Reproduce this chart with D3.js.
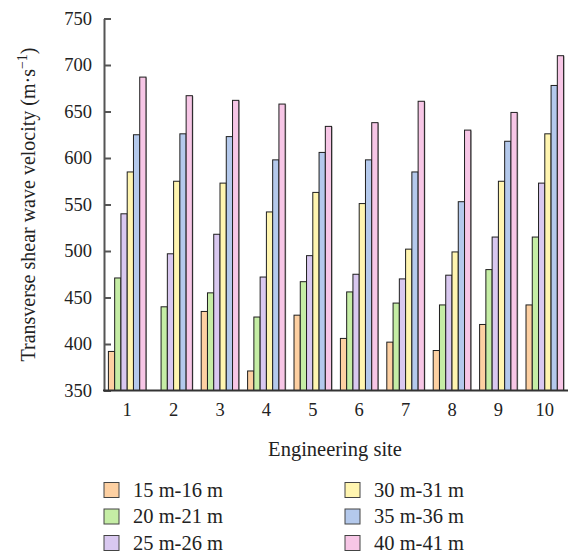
<!DOCTYPE html>
<html>
<head>
<meta charset="utf-8">
<script src="https://cdn.jsdelivr.net/npm/d3@7"></script>
<style>
  html, body { margin: 0; padding: 0; background: #fff; }
  svg { display: block; }
  text { font-family: "Liberation Serif", "Times New Roman", serif; fill: #222; }
</style>
</head>
<body>
<svg id="chart" width="569" height="557"></svg>
<script>
// Engineering sites along the x axis
const sites = ["1", "2", "3", "4", "5", "6", "7", "8", "9", "10"];

// Depth intervals (one bar per interval at every site)
const depths = ["15 m-16 m", "20 m-21 m", "25 m-26 m", "30 m-31 m", "35 m-36 m", "40 m-41 m"];
const depthColors = ["#fdd0a2", "#c5eda5", "#d9c8f0", "#fff5b0", "#b4c9ec", "#f7c6e6"];

// Shear wave velocity (m/s) per depth interval, listed by site 1..10
const v15 = [392, null, 435, 371, 431, 406, 402, 393, 421, 442];
const v20 = [471, 440, 455, 429, 467, 456, 444, 442, 480, 515];
const v25 = [540, 497, 518, 472, 495, 475, 470, 474, 515, 573];
const v30 = [585, 575, 573, 542, 563, 551, 502, 499, 575, 626];
const v35 = [625, 626, 623, 598, 606, 598, 585, 553, 618, 678];
const v40 = [687, 667, 662, 658, 634, 638, 661, 630, 649, 710];
const series = [v15, v20, v25, v30, v35, v40];

const yTicks = [350, 400, 450, 500, 550, 600, 650, 700, 750];

const svg = d3.select("#chart");
const plotLeft = 104, plotRight = 568, plotTop = 18.5, plotBottom = 390.5;

const x = d3.scaleBand().domain(sites).range([plotLeft, plotRight]).paddingInner(0.19).paddingOuter(0.095);
const xSub = d3.scaleBand().domain(depths).range([0, x.bandwidth()]);
const y = d3.scaleLinear().domain([350, 750]).range([plotBottom, plotTop]);

// Bars
const rows = [];
sites.forEach((s, i) => {
  depths.forEach((d, j) => {
    const v = series[j][i];
    if (v != null) rows.push({ site: s, depth: d, value: v, color: depthColors[j] });
  });
});

const bars = svg.append("g");
// soft grey edge on the right of each bar
bars.selectAll("rect.shade").data(rows).join("rect")
  .attr("class", "shade")
  .attr("x", d => x(d.site) + xSub(d.depth) + 1)
  .attr("y", d => y(d.value) + 0.5)
  .attr("width", xSub.bandwidth())
  .attr("height", d => plotBottom - y(d.value) - 0.5)
  .attr("fill", "#aaa");
bars.selectAll("rect.bar").data(rows).join("rect")
  .attr("class", "bar")
  .attr("x", d => x(d.site) + xSub(d.depth))
  .attr("y", d => y(d.value))
  .attr("width", xSub.bandwidth())
  .attr("height", d => plotBottom - y(d.value))
  .attr("fill", d => d.color)
  .attr("stroke", "#1e1e1e")
  .attr("stroke-width", 1);

// Y axis with inward ticks
const yAxis = svg.append("g")
  .attr("transform", `translate(${plotLeft},0)`)
  .call(d3.axisLeft(y).tickValues(yTicks).tickSize(-7).tickSizeOuter(0).tickPadding(12));
yAxis.select(".domain").attr("stroke", "#555").attr("stroke-width", 2);
yAxis.selectAll(".tick line").attr("stroke", "#555").attr("stroke-width", 2);
yAxis.selectAll(".tick text")
  .style("font-family", "'Liberation Serif', serif")
  .style("font-size", "18.5px")
  .attr("fill", "#222");

// X axis
const xAxis = svg.append("g")
  .attr("transform", `translate(0,${plotBottom})`)
  .call(d3.axisBottom(x).tickSize(0).tickSizeOuter(0).tickPadding(12));
xAxis.select(".domain").attr("stroke", "#333").attr("stroke-width", 2)
  .attr("d", `M${plotLeft - 1},0H${plotRight}`);
xAxis.selectAll(".tick text")
  .style("font-family", "'Liberation Serif', serif")
  .style("font-size", "18.5px")
  .attr("fill", "#222");

// Axis titles
svg.append("text")
  .attr("x", 335)
  .attr("y", 456)
  .attr("text-anchor", "middle")
  .style("font-size", "20.5px")
  .text("Engineering site");

const yTitle = svg.append("text")
  .attr("transform", `translate(35,${(plotTop + plotBottom) / 2}) rotate(-90)`)
  .attr("text-anchor", "middle")
  .style("font-size", "20px");
yTitle.append("tspan").text("Transverse shear wave velocity (m·s");
yTitle.append("tspan").attr("dy", -8).style("font-size", "14px").text("−1");
yTitle.append("tspan").attr("dy", 8).text(")");

// Legend: two columns of three
const legend = svg.append("g");
depths.forEach((d, j) => {
  const col = Math.floor(j / 3), row = j % 3;
  const gx = 104 + col * 241, gy = 490 + row * 26.5;
  legend.append("rect")
    .attr("x", gx).attr("y", gy - 7.5)
    .attr("width", 15).attr("height", 15)
    .attr("fill", depthColors[j])
    .attr("stroke", "#444").attr("stroke-width", 1);
  legend.append("text")
    .attr("x", gx + 29).attr("y", gy + 6.5)
    .style("font-size", "20.5px")
    .text(d);
});
</script>
</body>
</html>
